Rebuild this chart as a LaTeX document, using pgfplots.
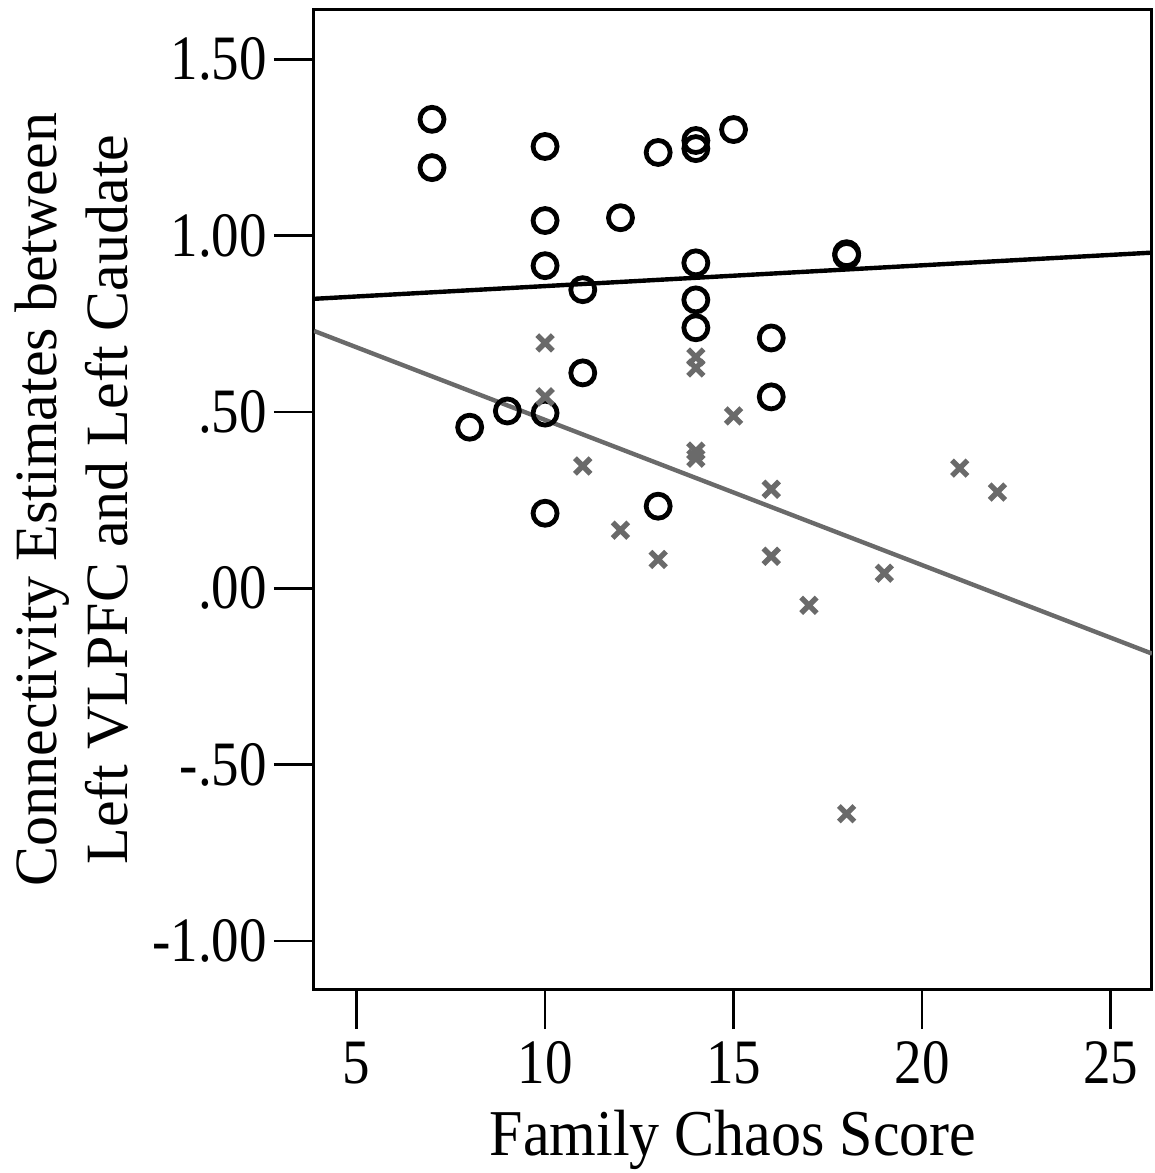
\documentclass[border=0pt]{standalone}
\usepackage{fontspec}
\setmainfont{Liberation Serif}
\usepackage{pgfplots}
\pgfplotsset{compat=1.18}
\definecolor{crossgray}{HTML}{6A6A6A}
\begin{document}
\begin{tikzpicture}
\useasboundingbox (-157pt,-92pt) rectangle (420.5pt,494.5pt);
\begin{axis}[
  at={(0,0)}, anchor=south west,
  scale only axis,
  width=419pt, height=489.5pt,
  xmin=3.87, xmax=26.1,
  ymin=-1.136, ymax=1.64,
  axis line style={line width=1.5pt},
  xtick={5,10,15,20,25},
  ytick={-1,-0.5,0,0.5,1,1.5},
  yticklabels={-1.00,-.50,.00,.50,1.00,1.50},
  tick align=outside,
  xtick pos=bottom, ytick pos=left,
  major tick length=20pt,
  tick style={line width=1.3pt, black},
  /pgf/number format/assume math mode=true,
  ticklabel style={font=\fontsize{27.5}{30}\selectfont, yscale=1.15},
  xticklabel style={yshift=-2pt},
  xlabel={Family Chaos Score},
  ylabel={Connectivity Estimates between\\Left VLPFC and Left Caudate},
  xlabel style={font=\fontsize{30}{36}\selectfont, yscale=1.09},
  xlabel shift={5pt},
  ylabel style={font=\fontsize{30}{35.5}\selectfont, align=center},
  ylabel shift={5pt},
  clip=true,
]
\addplot[only marks, mark=o, mark size=6pt, line width=2.4pt, black] coordinates {
(7,1.330) (7,1.193) (10,1.253) (10,1.043) (10,0.915) (10,0.497) (10,0.213)
(8,0.457) (9,0.503) (11,0.847) (11,0.611) (12,1.051) (13,1.236) (13,0.233)
(14,1.270) (14,1.247) (14,0.923) (14,0.818) (14,0.739) (15,1.301)
(16,0.710) (16,0.543) (18,0.949) (18,0.944)
};
\addplot[only marks, mark=x, mark size=5.5pt, line width=2.7pt, crossgray] coordinates {
(10,0.696) (10,0.543) (11,0.347) (12,0.165) (13,0.082) (14,0.656) (14,0.625)
(14,0.389) (14,0.369) (15,0.489) (16,0.281) (16,0.091) (17,-0.048) (18,-0.639)
(19,0.043) (21,0.341) (22,0.273)
};
\addplot[black, line width=2.2pt] coordinates {(3.87,0.821) (26.1,0.952)};
\addplot[crossgray, line width=2.2pt] coordinates {(3.87,0.730) (26.1,-0.185)};
\end{axis}
\end{tikzpicture}
\end{document}
